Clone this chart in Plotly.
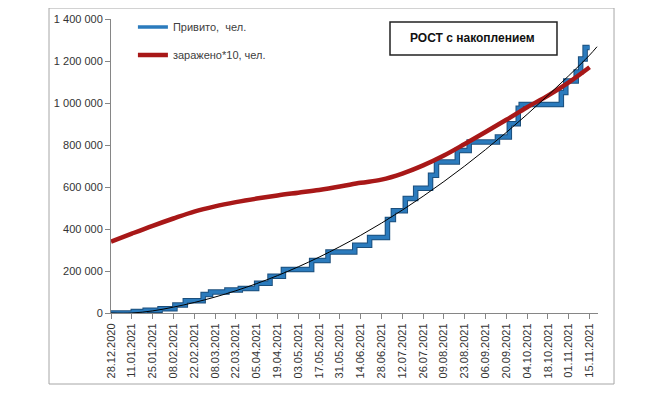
import plotly.graph_objects as go

# ---- data ----
tick_dates = ["2020-12-28", "2021-01-11", "2021-01-25", "2021-02-08", "2021-02-22",
              "2021-03-08", "2021-03-22", "2021-04-05", "2021-04-19", "2021-05-03",
              "2021-05-17", "2021-05-31", "2021-06-14", "2021-06-28", "2021-07-12",
              "2021-07-26", "2021-08-09", "2021-08-23", "2021-09-06", "2021-09-20",
              "2021-10-04", "2021-10-18", "2021-11-01", "2021-11-15"]

vacc_dates = ["2020-12-28", "2021-01-12", "2021-01-20", "2021-01-30", "2021-02-09",
              "2021-02-16", "2021-02-28", "2021-03-05", "2021-03-16", "2021-03-25",
              "2021-04-05", "2021-04-14", "2021-04-23", "2021-05-12", "2021-05-23",
              "2021-06-10", "2021-06-20", "2021-07-02", "2021-07-06", "2021-07-14",
              "2021-07-21", "2021-07-31", "2021-08-04", "2021-08-18", "2021-08-26",
              "2021-09-14", "2021-09-22", "2021-09-28", "2021-09-30", "2021-10-27",
              "2021-10-30", "2021-11-06", "2021-11-09", "2021-11-12", "2021-11-15"]
vaccinated = [0, 7000, 13000, 20000, 38000,
              58000, 88000, 100000, 109000, 117000,
              142000, 175000, 207000, 250000, 290000,
              323000, 360000, 445000, 487000, 545000,
              594000, 656000, 719000, 774000, 814000,
              838000, 901000, 975000, 993000, 1050000,
              1105000, 1148000, 1210000, 1264000, 1264000]

infected_x10 = [340000, 378000, 415000, 450000, 483000,
                508000, 528000, 545000, 560000, 573000,
                586000, 602000, 620000, 635000, 664000,
                703000, 750000, 805000, 862000, 920000,
                980000, 1035000, 1098000, 1170000]

trend_dates = tick_dates + ["2021-11-20"]
trend = [0, 0, 10000, 28000, 50000,
         76000, 106000, 140000, 178000, 220000,
         266000, 316000, 370000, 428000, 490000,
         556000, 626000, 700000, 778000, 860000,
         946000, 1036000, 1130000, 1228000, 1268000]

tick_labels = [f"{d[8:10]}.{d[5:7]}.{d[0:4]}" for d in tick_dates]

# ---- figure ----
fig = go.Figure()

fig.add_trace(go.Scatter(x=vacc_dates, y=vaccinated, mode="lines", line_shape="hv",
                         line=dict(color="#1c4f7c", width=5.5), showlegend=False,
                         hoverinfo="skip"))
fig.add_trace(go.Scatter(x=vacc_dates, y=vaccinated, mode="lines", line_shape="hv",
                         name="Привито,  чел.", legendgroup="a",
                         line=dict(color="#2b7bbd", width=3.5)))
fig.add_trace(go.Scatter(x=tick_dates, y=infected_x10, mode="lines", line_shape="spline",
                         name="заражено*10, чел.", legendgroup="b",
                         line=dict(color="#a81818", width=4.5)))
fig.add_trace(go.Scatter(x=trend_dates, y=trend, mode="lines", line_shape="spline",
                         line=dict(color="#000000", width=1), showlegend=False,
                         hoverinfo="skip"))

axis_col = "#868686"
fig.update_layout(
    width=666, height=397,
    margin=dict(l=103, r=76, t=11, b=92, autoexpand=False),
    paper_bgcolor="white", plot_bgcolor="white",
    separators=", ",
    font=dict(family="Liberation Sans, Arial, sans-serif", size=11, color="#333333"),
    legend=dict(x=0.045, y=1.022, xanchor="left", yanchor="top",
                bgcolor="rgba(0,0,0,0)", tracegroupgap=9,
                font=dict(size=11, color="#404040"), itemwidth=30),
    xaxis=dict(type="date", range=["2020-12-28", "2021-11-20 16:00"],
               tickmode="array", tickvals=tick_dates, ticktext=tick_labels,
               tickangle=-90, showgrid=False, zeroline=False,
               showline=True, linecolor=axis_col, linewidth=1,
               ticks="outside", ticklen=5, tickcolor=axis_col,
               tickfont=dict(size=11, color="#333333")),
    yaxis=dict(range=[0, 1400000], dtick=200000, tickformat=",.0f",
               showgrid=False, zeroline=False,
               showline=True, linecolor=axis_col, linewidth=1,
               ticks="outside", ticklen=5, tickcolor=axis_col,
               tickfont=dict(size=11, color="#333333")),
    shapes=[
        dict(type="rect", xref="paper", yref="paper",
             x0=-0.1273, x1=1.0329, y0=-0.2415, y1=1.0374,
             line=dict(color="#a6a6a6", width=1), fillcolor="rgba(0,0,0,0)", layer="below"),
        dict(type="rect", xref="paper", yref="paper",
             x0=0.5729, x1=0.9158, y0=0.8776, y1=0.9898,
             line=dict(color="#222222", width=1.5), fillcolor="white"),
    ],
    annotations=[
        dict(text="<b>РОСТ с накоплением</b>", xref="paper", yref="paper",
             x=0.7433, y=0.9337, showarrow=False, xanchor="center", yanchor="middle",
             font=dict(size=12, color="#111111")),
    ],
)

fig.write_html("out.html")
